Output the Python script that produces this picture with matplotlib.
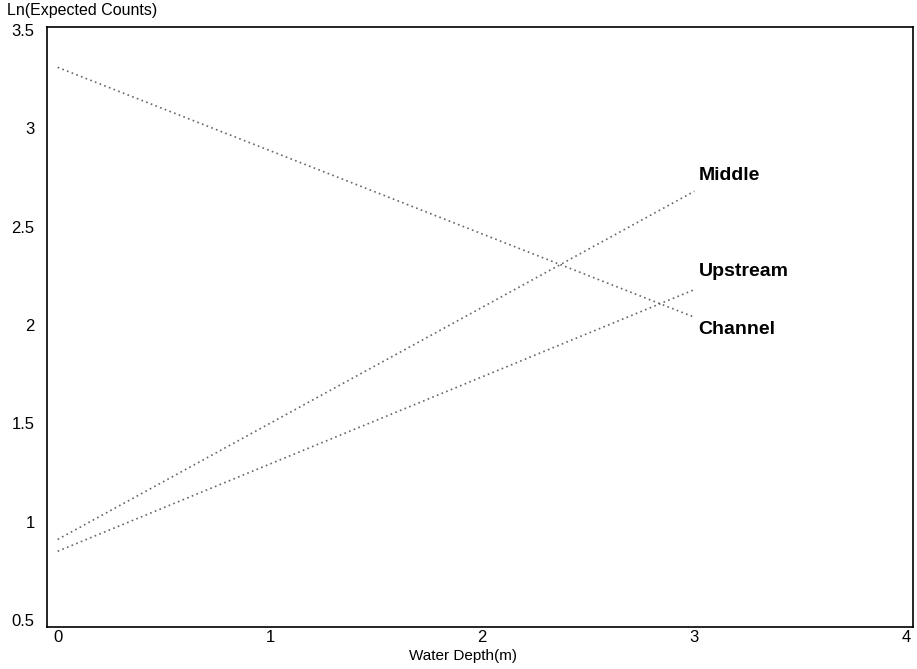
import numpy as np
import matplotlib.pyplot as plt

plt.rcParams['font.family'] = ['Liberation Sans', 'DejaVu Sans']

# fitted lines, value at depth 0 and depth 3
depth = [0, 3]
channel = [3.31, 2.04]
middle = [0.91, 2.68]
upstream = [0.85, 2.18]

labels = ['Middle', 'Upstream', 'Channel']
label_y = [2.76, 2.27, 1.975]

fig = plt.figure(figsize=(9.17, 6.69), dpi=100)
ax = fig.add_axes([0.0513, 0.0628, 0.9443, 0.8968])

for ys in (channel, middle, upstream):
    ax.plot(depth, ys, linestyle=(0, (1, 2)), color='#666666', linewidth=1.2)

for lab, ly in zip(labels, label_y):
    ax.text(3.02, ly, lab, fontsize=14, fontweight='bold', va='center', ha='left')

ax.set_xlim(-0.05, 4.03)
ax.set_ylim(0.465, 3.515)
ax.set_xticks([0, 1, 2, 3, 4])
ax.set_xticklabels(['0', '1', '2', '3', '4'])
ax.set_yticks([0.5, 1, 1.5, 2, 2.5, 3, 3.5])
ax.set_yticklabels(['0.5', '1', '1.5', '2', '2.5', '3', '3.5'])
ax.tick_params(length=0, labelsize=12)
ax.tick_params(axis='y', pad=9)
ax.tick_params(axis='x', pad=2)
for sp in ax.spines.values():
    sp.set_linewidth(1.2)

ax.set_xlabel('Water Depth(m)', fontsize=11)
ax.xaxis.set_label_coords(0.48, -0.036, transform=ax.transAxes)
ax.xaxis.label.set_va('top')
fig.text(0.008, 0.995, 'Ln(Expected Counts)', fontsize=11.5, va='top', ha='left')

fig.savefig('out.png', dpi=100)
